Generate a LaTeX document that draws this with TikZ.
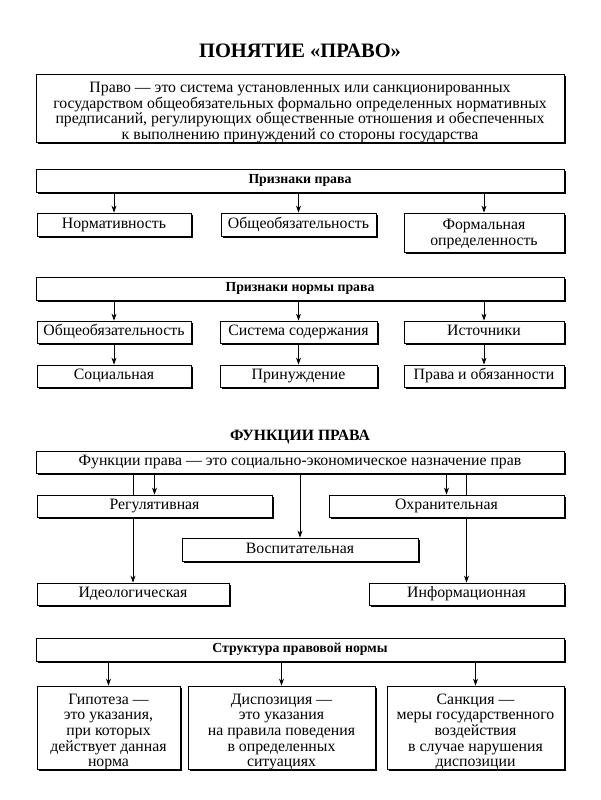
\documentclass[tikz,border=0pt]{standalone}
\usepackage{fontspec}
\setmainfont{Liberation Serif}
\usetikzlibrary{shadows,arrows.meta}
\newcommand\firststrut{\rule{0pt}{16pt}}
\begin{document}
\begin{tikzpicture}[x=1pt,y=-1pt,
  box/.style={draw, line width=0.8pt, fill=white, inner sep=1pt, align=center,
    font=\fontsize{15.8}{15.6}\selectfont,
    drop shadow={shadow xshift=1.6pt, shadow yshift=-1.6pt, fill=black, opacity=1}},
  one/.style={box, text height=11pt, text depth=4pt},
  multi/.style={box, text depth=0pt},
  hdr/.style={one, font=\fontsize{13.8}{15}\selectfont\bfseries, text height=10pt, text depth=3.5pt},
  ttl/.style={font=\fontsize{20.5}{22}\selectfont\bfseries},
  arr/.style={line width=0.7pt, -{Stealth[length=7pt,width=5pt]}},
  ln/.style={line width=0.7pt}]
\useasboundingbox (0,0) rectangle (600,800);
% Section 1
\node[ttl] (t1) at (300,51) {ПОНЯТИЕ «ПРАВО»};
\node[multi, minimum width=528, minimum height=68] (def) at (300,108)
  {\firststrut Право — это система установленных или санкционированных\\
   государством общеобязательных формально определенных нормативных\\
   предписаний, регулирующих общественные отношения и обеспеченных\\
   к выполнению принуждений со стороны государства};
\node[hdr, minimum width=528, minimum height=23] (p1) at (300,180.5) {Признаки права};
\node[one, minimum width=154, minimum height=23] (a1) at (114,224.5) {Нормативность};
\node[one, minimum width=155, minimum height=23] (a2) at (298.5,224.5) {Общеобязательность};
\node[multi, minimum width=160, minimum height=39] (a3) at (484,232.5) {Формальная\\определенность};
\foreach \n in {a1,a2,a3} \draw[arr] (p1.south -| \n.north) -- (\n.north);
% Section 2
\node[hdr, minimum width=528, minimum height=23] (p2) at (300,288.5) {Признаки нормы права};
\node[one, minimum width=154, minimum height=22] (b1) at (114,332) {Общеобязательность};
\node[one, minimum width=157, minimum height=22] (b2) at (298.5,332) {Система содержания};
\node[one, minimum width=160, minimum height=22] (b3) at (484,332) {Источники};
\node[one, minimum width=154, minimum height=22] (c1) at (114,376) {Социальная};
\node[one, minimum width=157, minimum height=22] (c2) at (298.5,376) {Принуждение};
\node[one, minimum width=160, minimum height=22] (c3) at (484,376) {Права и обязанности};
\foreach \n in {b1,b2,b3} \draw[arr] (p2.south -| \n.north) -- (\n.north);
\draw[arr] (b1) -- (c1);
\draw[arr] (b2) -- (c2);
\draw[arr] (b3) -- (c3);
% Section 3
\node[ttl, font=\fontsize{15.7}{17}\selectfont\bfseries] (t2) at (300,437) {ФУНКЦИИ ПРАВА};
\node[one, minimum width=528, minimum height=22] (f) at (300,462) {Функции права — это социально-экономическое назначение прав};
\node[one, minimum width=235, minimum height=22] (reg) at (154.5,506) {Регулятивная};
\node[one, minimum width=235, minimum height=22] (okh) at (446.5,506) {Охранительная};
\node[one, minimum width=236, minimum height=23] (vos) at (300,549.5) {Воспитательная};
\node[one, minimum width=192, minimum height=22] (ide) at (133,594) {Идеологическая};
\node[one, minimum width=195, minimum height=22] (inf) at (466.5,594) {Информационная};
\draw[arr] (f.south -| reg.north) -- (reg.north);
\draw[arr] (f.south -| okh.north) -- (okh.north);
\draw[arr] (f) -- (vos);
\draw[ln] (f.south -| ide.north) -- (reg.north -| ide.north);
\draw[arr] (reg.south -| ide.north) -- (ide.north);
\draw[ln] (f.south -| inf.north) -- (okh.north -| inf.north);
\draw[arr] (okh.south -| inf.north) -- (inf.north);
% Section 4
\node[hdr, minimum width=528, minimum height=23] (s) at (300,649.5) {Структура правовой нормы};
\node[multi, minimum width=143, minimum height=83] (g) at (108.5,727.5) {\firststrut Гипотеза —\\это указания,\\при которых\\действует данная\\норма};
\node[multi, minimum width=187, minimum height=83] (d) at (281.5,727.5) {\firststrut Диспозиция —\\это указания\\на правила поведения\\в определенных\\ситуациях};
\node[multi, minimum width=177, minimum height=83] (k) at (475.5,727.5) {\firststrut Санкция —\\меры государственного\\воздействия\\в случае нарушения\\диспозиции};
\foreach \n in {g,d,k} \draw[arr] (s.south -| \n.north) -- (\n.north);
\end{tikzpicture}
\end{document}
